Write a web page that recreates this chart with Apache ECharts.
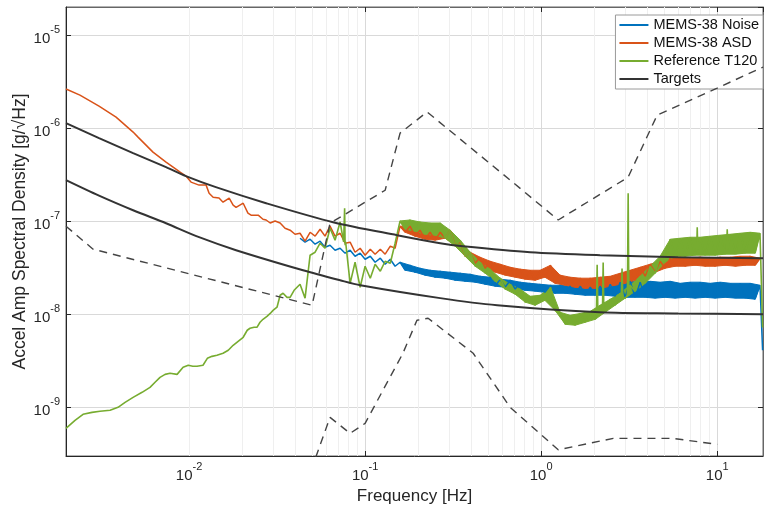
<!DOCTYPE html>
<html>
<head>
<meta charset="utf-8">
<script src="https://cdn.jsdelivr.net/npm/echarts@6/dist/echarts.min.js"></script>
<style>
  html, body { margin: 0; padding: 0; background: #fff; }
  #psd { width: 764px; height: 510px; }
</style>
</head>
<body>
<div id="psd"></div>
<script>
// frequency samples used for the noisy part of the three measured curves (Hz)
var bandFreqs = [
  0.0427, 0.0456, 0.0487, 0.0520, 0.0555, 0.0592, 0.0632, 0.0675, 0.0721, 0.0770,
  0.0822, 0.0877, 0.0937, 0.100, 0.107, 0.114, 0.122, 0.130, 0.139, 0.148,
  0.158, 0.169, 0.180, 0.192, 0.205, 0.219, 0.234, 0.250, 0.267, 0.285,
  0.304, 0.325, 0.347, 0.370, 0.395, 0.422, 0.450, 0.481, 0.513, 0.548,
  0.585, 0.625, 0.667, 0.712, 0.760, 0.811, 0.866, 0.925, 0.987, 1.05,
  1.13, 1.20, 1.28, 1.37, 1.46, 1.56, 1.67, 1.78, 1.90, 2.03,
  2.16, 2.31, 2.47, 2.63, 2.81, 3.00, 3.20, 3.42, 3.65, 3.90,
  4.16, 4.44, 4.74, 5.06, 5.41, 5.77, 6.16, 6.58, 7.02, 7.50,
  8.00, 8.55, 9.12, 9.74, 10.4, 11.1, 11.9, 12.7, 13.5, 14.4,
  15.4, 16.4, 17.5
];

// MEMS-38 Noise, read at bandFreqs (top / bottom of the band in turn)
var noiseBand = [
  6.56e-8, 5.95e-8, 6.4e-8, 5.66e-8, 6.1e-8, 5.25e-8, 5.52e-8, 4.88e-8, 5.12e-8, 4.53e-8,
  4.88e-8, 4.2e-8, 4.53e-8, 3.9e-8, 4.2e-8, 3.62e-8, 4.0e-8, 3.45e-8, 3.9e-8, 3.28e-8,
  3.62e-8, 2.97e-8, 3.36e-8, 2.83e-8, 3.12e-8, 2.63e-8, 2.97e-8, 2.5e-8, 2.9e-8, 2.44e-8,
  2.83e-8, 2.32e-8, 2.76e-8, 2.26e-8, 2.69e-8, 2.21e-8, 2.56e-8, 2.1e-8, 2.5e-8, 2.0e-8,
  2.38e-8, 1.95e-8, 2.32e-8, 1.86e-8, 2.21e-8, 1.81e-8, 2.15e-8, 1.77e-8, 2.1e-8, 1.72e-8,
  2.05e-8, 1.68e-8, 2.05e-8, 1.68e-8, 2.0e-8, 1.64e-8, 2.0e-8, 1.6e-8, 1.95e-8, 1.6e-8,
  2.0e-8, 1.6e-8, 2.1e-8, 1.56e-8, 2.21e-8, 1.52e-8, 2.26e-8, 1.52e-8, 2.21e-8, 1.52e-8,
  2.26e-8, 1.49e-8, 2.21e-8, 1.52e-8, 2.26e-8, 1.49e-8, 2.15e-8, 1.52e-8, 2.21e-8, 1.49e-8,
  2.21e-8, 1.52e-8, 2.15e-8, 1.49e-8, 2.21e-8, 1.52e-8, 2.15e-8, 1.49e-8, 2.15e-8, 1.49e-8,
  2.15e-8, 1.45e-8, 2.05e-8
];
var noiseTail = [[18.1, 4.1e-9]];

// MEMS-38 ASD: smooth low-frequency part, then the band
var asdLow = [
  [0.0020, 2.63e-6], [0.0024, 2.26e-6], [0.00308, 1.72e-6], [0.00385, 1.31e-6], [0.00481, 9.06e-7],
  [0.00513, 8.0e-7], [0.00624, 5.52e-7], [0.0074, 4.31e-7], [0.0089, 3.36e-7], [0.0096, 3.05e-7],
  [0.01026, 2.63e-7], [0.0114, 2.44e-7], [0.0125, 2.44e-7], [0.0130, 2.0e-7], [0.0137, 1.81e-7],
  [0.0148, 1.77e-7], [0.0156, 1.6e-7], [0.0169, 1.77e-7], [0.0178, 1.49e-7], [0.0185, 1.41e-7],
  [0.0203, 1.56e-7], [0.0216, 1.22e-7], [0.0225, 1.16e-7], [0.0247, 1.16e-7], [0.0263, 1.05e-7],
  [0.0274, 1.03e-7], [0.0289, 9.56e-8], [0.0308, 1.005e-7], [0.0329, 9.56e-8], [0.0351, 8.4e-8],
  [0.0375, 8.0e-8], [0.0400, 7.24e-8]
];
var asdBand = [
  7.42e-8, 6.1e-8, 7.6e-8, 6.9e-8, 8.2e-8, 6.9e-8, 8.84e-8, 6.9e-8, 7.42e-8, 5.8e-8,
  5.95e-8, 4.64e-8, 5.12e-8, 4.31e-8, 5.0e-8, 4.42e-8, 5.0e-8, 4.42e-8, 5.39e-8, 5.12e-8,
  8.84e-8, 7.6e-8, 8.84e-8, 6.9e-8, 8.0e-8, 6.4e-8, 7.6e-8, 6.25e-8, 7.6e-8, 6.56e-8,
  8.0e-8, 5.52e-8, 5.95e-8, 4.2e-8, 4.64e-8, 3.53e-8, 4.1e-8, 3.12e-8, 3.71e-8, 2.83e-8,
  3.45e-8, 2.63e-8, 3.2e-8, 2.5e-8, 3.05e-8, 2.38e-8, 2.97e-8, 2.32e-8, 2.97e-8, 2.5e-8,
  3.36e-8, 2.15e-8, 2.63e-8, 2.05e-8, 2.5e-8, 1.95e-8, 2.44e-8, 1.9e-8, 2.44e-8, 1.9e-8,
  2.5e-8, 1.95e-8, 2.56e-8, 2.05e-8, 2.76e-8, 2.15e-8, 2.97e-8, 2.32e-8, 3.2e-8, 2.56e-8,
  3.45e-8, 2.83e-8, 3.71e-8, 3.12e-8, 4.0e-8, 3.28e-8, 4.1e-8, 3.28e-8, 4.0e-8, 3.36e-8,
  4.1e-8, 3.28e-8, 4.0e-8, 3.28e-8, 4.1e-8, 3.36e-8, 4.1e-8, 3.28e-8, 4.2e-8, 3.36e-8,
  4.2e-8, 3.36e-8, 4.0e-8
];

// Reference T120
var t120Low = [
  [0.0020, 5.94e-10], [0.00225, 7.25e-10], [0.0025, 8.41e-10], [0.00281, 8.83e-10], [0.00312, 9.06e-10],
  [0.00356, 9.29e-10], [0.00395, 1.0e-9], [0.00433, 1.13e-9], [0.00481, 1.28e-9], [0.00541, 1.45e-9],
  [0.0060, 1.64e-9], [0.00641, 1.86e-9], [0.00684, 2.1e-9], [0.00731, 2.26e-9], [0.0078, 2.32e-9],
  [0.00855, 2.26e-9], [0.00925, 2.69e-9], [0.0099, 2.83e-9], [0.0105, 2.76e-9], [0.0111, 2.76e-9],
  [0.0120, 2.83e-9], [0.0127, 3.36e-9], [0.0135, 3.53e-9], [0.0144, 3.62e-9], [0.0156, 3.81e-9],
  [0.0167, 4.1e-9], [0.0178, 4.64e-9], [0.0190, 5.12e-9], [0.0203, 5.66e-9], [0.0214, 6.73e-9],
  [0.0222, 7.07e-9], [0.0234, 7.24e-9], [0.0243, 7.24e-9], [0.0253, 8.2e-9], [0.0263, 8.83e-9],
  [0.0277, 9.5e-9], [0.0289, 1.02e-8], [0.0300, 1.1e-8], [0.0316, 1.19e-8], [0.0329, 1.6e-8],
  [0.0342, 1.68e-8], [0.0360, 1.52e-8], [0.0375, 1.52e-8], [0.0395, 1.81e-8]
];
var t120Band = [
  2.1e-8, 1.49e-8, 4.31e-8, 4.64e-8, 5.8e-8, 5.12e-8, 8.4e-8, 6.25e-8, 9.8e-8, 5.52e-8,
  2.15e-8, 3.62e-8, 1.95e-8, 3.28e-8, 2.44e-8, 3.45e-8, 2.9e-8, 3.71e-8, 3.53e-8, 5.8e-8,
  1.005e-7, 8.2e-8, 1.03e-7, 7.8e-8, 9.8e-8, 7.24e-8, 9.56e-8, 7.07e-8, 9.56e-8, 6.56e-8,
  8.0e-8, 5.39e-8, 6.25e-8, 4.2e-8, 4.64e-8, 3.28e-8, 3.62e-8, 2.76e-8, 3.05e-8, 2.26e-8,
  2.44e-8, 1.86e-8, 2.1e-8, 1.64e-8, 1.86e-8, 1.35e-8, 1.56e-8, 1.25e-8, 1.6e-8, 1.41e-8,
  1.95e-8, 1.1e-8, 1.05e-8, 7.8e-9, 9.75e-9, 7.62e-9, 1.02e-8, 8.2e-9, 1.075e-8, 8.83e-9,
  1.25e-8, 1.05e-8, 1.45e-8, 1.25e-8, 1.68e-8, 1.49e-8, 2.05e-8, 1.77e-8, 2.56e-8, 2.15e-8,
  3.28e-8, 2.76e-8, 4.2e-8, 3.62e-8, 6.4e-8, 4.2e-8, 6.56e-8, 4.2e-8, 6.72e-8, 4.31e-8,
  6.72e-8, 4.31e-8, 6.9e-8, 4.31e-8, 7.07e-8, 4.42e-8, 7.24e-8, 4.42e-8, 7.42e-8, 4.53e-8,
  7.6e-8, 4.53e-8, 7.42e-8
];
// narrow lines sticking out of the T120 spectrum
var t120Spikes = [
  [0.0755, 6.0e-8], [0.0765, 1.38e-7], [0.0775, 6.0e-8],
  [2.06, 1.0e-8], [2.08, 3.4e-8], [2.10, 1.0e-8],
  [2.23, 1.1e-8], [2.25, 3.6e-8], [2.27, 1.1e-8],
  [2.85, 1.5e-8], [2.88, 3.1e-8], [2.91, 1.5e-8],
  [3.09, 1.6e-8], [3.12, 2.0e-7], [3.15, 1.6e-8],
  [7.65, 5.0e-8], [7.70, 8.6e-8], [7.75, 5.0e-8],
  [11.3, 5.0e-8], [11.4, 8.2e-8], [11.5, 5.0e-8]
];
var t120Tail = [[18.1, 7.2e-9]];

// solid target curves
var targetUpper = [
  [0.002, 1.13e-6], [0.00308, 7.8e-7], [0.00481, 5.38e-7], [0.0074, 3.81e-7], [0.0096, 3.05e-7],
  [0.0142, 2.32e-7], [0.0274, 1.56e-7], [0.0658, 9.76e-8], [0.152, 7.07e-8], [0.267, 5.8e-8],
  [0.36, 5.38e-8], [0.866, 4.64e-8], [2.16, 4.31e-8], [6, 4.1e-8], [18.2, 4.0e-8]
];
var targetLower = [
  [0.002, 2.76e-7], [0.00308, 1.88e-7], [0.00481, 1.31e-7], [0.0074, 9.5e-8], [0.0114, 6.73e-8],
  [0.0185, 4.88e-8], [0.0444, 2.97e-8], [0.0721, 2.32e-8], [0.094, 2.05e-8], [0.267, 1.49e-8],
  [0.5625, 1.25e-8], [2.16, 1.05e-8], [6, 1.02e-8], [18.2, 1.0e-8]
];

// dashed limit curves
var dashUpper = [
  [0.002, 8.84e-8], [0.00285, 5.0e-8], [0.05, 1.25e-8], [0.0632, 9.5e-8], [0.13, 2.15e-7],
  [0.158, 8.84e-7], [0.225, 1.49e-6], [0.667, 2.76e-7], [1.25, 1.03e-7], [3.12, 2.97e-7],
  [4.56, 1.38e-6], [10, 2.69e-6], [18.2, 4.53e-6]
];
var dashLower = [
  [0.0493, 2.1e-10], [0.0632, 7.8e-10], [0.0822, 5.25e-10], [0.1, 6.73e-10], [0.164, 3.81e-9],
  [0.197, 8.62e-9], [0.228, 9.06e-9], [0.411, 3.81e-9], [0.667, 1.0e-9], [1.25, 3.5e-10],
  [2.57, 4.64e-10], [5.62, 4.64e-10], [10, 4.0e-10]
];

var xMin = 0.002, xMax = 18.2;
var yMin = 3e-10, yMax = 2e-5;
var minorSteps = [2, 3, 4, 5, 6, 7, 8, 9];
var xDecades = [1e-3, 1e-2, 1e-1, 1, 10];
var yDecades = [1e-10, 1e-9, 1e-8, 1e-7, 1e-6, 1e-5];

var legendNames = ['MEMS-38 Noise', 'MEMS-38 ASD', 'Reference T120', 'Targets'];
var colors = ['#0072BD', '#D95319', '#77AC30', '#333333'];
var fontFam = '"Liberation Sans", Helvetica, Arial, sans-serif';

function zipBand(vals) {
    var out = [];
    for (var i = 0; i < bandFreqs.length; i++) {
        out.push([bandFreqs[i], vals[i]]);
    }
    return out;
}
function byFreq(a, b) { return a[0] - b[0]; }

// outline of a band: top readings going right, bottom readings coming back
function bandOutline(vals, from) {
    var top = [], bottom = [];
    for (var i = from; i < bandFreqs.length; i++) {
        if (i % 2 === 0) top.push([bandFreqs[i], vals[i]]);
        else bottom.unshift([bandFreqs[i], vals[i]]);
    }
    return top.concat(bottom);
}

var noiseData = zipBand(noiseBand).concat(noiseTail);
var asdData = asdLow.concat(zipBand(asdBand));
var t120Data = t120Low.concat(zipBand(t120Band), t120Spikes, t120Tail).sort(byFreq);

// minor grid lines (2..9 in each decade), drawn as mark lines
var minorLines = [];
xDecades.forEach(function (d) {
    minorSteps.forEach(function (m) {
        var v = m * d;
        if (v > xMin * 1.001 && v < xMax * 0.999) minorLines.push({xAxis: v});
    });
});
yDecades.forEach(function (d) {
    minorSteps.forEach(function (m) {
        var v = m * d;
        if (v > yMin * 1.001 && v < yMax * 0.999) minorLines.push({yAxis: v});
    });
});

function powLabel(val) {
    var e = Math.log10(val);
    var n = Math.round(e);
    if (Math.abs(e - n) > 1e-6) return '';
    return '{b|10}{s|' + n + '}';
}
var labelRich = {
    b: {fontSize: 15, lineHeight: 22, verticalAlign: 'bottom', color: '#262626', fontFamily: fontFam},
    s: {fontSize: 11, lineHeight: 9, verticalAlign: 'top', color: '#262626', fontFamily: fontFam}
};

function lineSeries(name, data, color, width) {
    return {
        name: name,
        type: 'line',
        data: data,
        symbol: 'none',
        smooth: false,
        lineStyle: {color: color, width: width},
        itemStyle: {color: color},
        z: 3
    };
}

function bandSeries(name, outline, color) {
    return {
        name: name,
        type: 'custom',
        coordinateSystem: 'cartesian2d',
        data: [[1, 1e-8]],
        silent: true,
        clip: true,
        z: 3,
        renderItem: function (params, api) {
            var pts = outline.map(function (p) { return api.coord(p); });
            return {
                type: 'polygon',
                shape: {points: pts},
                style: {fill: color, stroke: color, lineWidth: 1}
            };
        }
    };
}

var chart = echarts.init(document.getElementById('psd'));
option = {
    animation: false,
    backgroundColor: '#ffffff',
    grid: {
        left: 66, right: 1, top: 7, bottom: 54,
        containLabel: false,
        outerBoundsMode: 'none',
        show: true, borderColor: '#666', borderWidth: 1
    },
    legend: {
        data: legendNames,
        orient: 'vertical',
        right: 1,
        top: 15,
        itemWidth: 29,
        itemHeight: 2,
        itemGap: 2,
        padding: [2, 4, 2, 3],
        backgroundColor: '#ffffff',
        borderColor: '#9a9a9a',
        borderWidth: 1,
        borderRadius: 0,
        textStyle: {fontSize: 14.5, color: '#111', fontFamily: fontFam, lineHeight: 16}
    },
    xAxis: [{
        type: 'log', logBase: 10, min: xMin, max: xMax,
        position: 'bottom',
        name: 'Frequency [Hz]', nameLocation: 'middle', nameGap: 32,
        nameTextStyle: {fontSize: 17, color: '#262626', fontFamily: fontFam},
        axisLine: {lineStyle: {color: '#262626'}},
        axisTick: {inside: true, length: 5, lineStyle: {color: '#262626'}},
        axisLabel: {formatter: powLabel, rich: labelRich, margin: 5, showMinLabel: false, showMaxLabel: false},
        splitLine: {show: true, lineStyle: {color: '#d9d9d9'}}
    }, {
        type: 'log', logBase: 10, min: xMin, max: xMax,
        position: 'top',
        axisLine: {lineStyle: {color: '#666'}},
        axisTick: {inside: true, length: 5, lineStyle: {color: '#262626'}},
        axisLabel: {show: false},
        splitLine: {show: false}
    }],
    yAxis: [{
        type: 'log', logBase: 10, min: yMin, max: yMax,
        position: 'left',
        name: 'Accel Amp Spectral Density [g/\u221AHz]', nameLocation: 'middle', nameGap: 37,
        nameMoveOverlap: false,
        nameTextStyle: {fontSize: 17.5, color: '#262626', fontFamily: fontFam},
        axisLine: {show: true, lineStyle: {color: '#262626'}},
        axisTick: {show: true, inside: true, length: 5, lineStyle: {color: '#262626'}},
        axisLabel: {formatter: powLabel, rich: labelRich, margin: 6, showMinLabel: false, showMaxLabel: false},
        splitLine: {show: true, lineStyle: {color: '#d9d9d9'}}
    }, {
        type: 'log', logBase: 10, min: yMin, max: yMax,
        position: 'right',
        axisLine: {show: true, lineStyle: {color: '#666'}},
        axisTick: {show: true, inside: true, length: 5, lineStyle: {color: '#262626'}},
        axisLabel: {show: false},
        splitLine: {show: false}
    }],
    series: [
        {
            name: 'minor grid',
            type: 'line',
            data: [],
            silent: true,
            z: 1,
            markLine: {
                silent: true,
                symbol: 'none',
                z: 1,
                label: {show: false},
                lineStyle: {color: '#efefef', width: 1, type: 'solid'},
                data: minorLines
            }
        },
        bandSeries('noise band', bandOutline(noiseBand, 20), colors[0]),
        lineSeries('MEMS-38 Noise', noiseData, colors[0], 1.5),
        bandSeries('asd band', bandOutline(asdBand, 20), colors[1]),
        lineSeries('MEMS-38 ASD', asdData, colors[1], 1.5),
        bandSeries('t120 band', bandOutline(t120Band, 20), colors[2]),
        lineSeries('Reference T120', t120Data, colors[2], 1.6),
        {
            name: 'Targets', type: 'line', data: targetUpper, symbol: 'none', smooth: 0.3,
            lineStyle: {color: colors[3], width: 2}, itemStyle: {color: colors[3]}, z: 4
        },
        {
            name: 'Targets', type: 'line', data: targetLower, symbol: 'none', smooth: 0.3,
            lineStyle: {color: colors[3], width: 2}, itemStyle: {color: colors[3]}, z: 4
        },
        {
            name: 'Limits', type: 'line', data: dashUpper, symbol: 'none',
            lineStyle: {color: '#444', width: 1.4, type: [8, 6]}, z: 4
        },
        {
            name: 'Limits', type: 'line', data: dashLower, symbol: 'none',
            lineStyle: {color: '#444', width: 1.4, type: [8, 6]}, z: 4
        }
    ]
};
chart.setOption(option);
</script>
</body>
</html>
